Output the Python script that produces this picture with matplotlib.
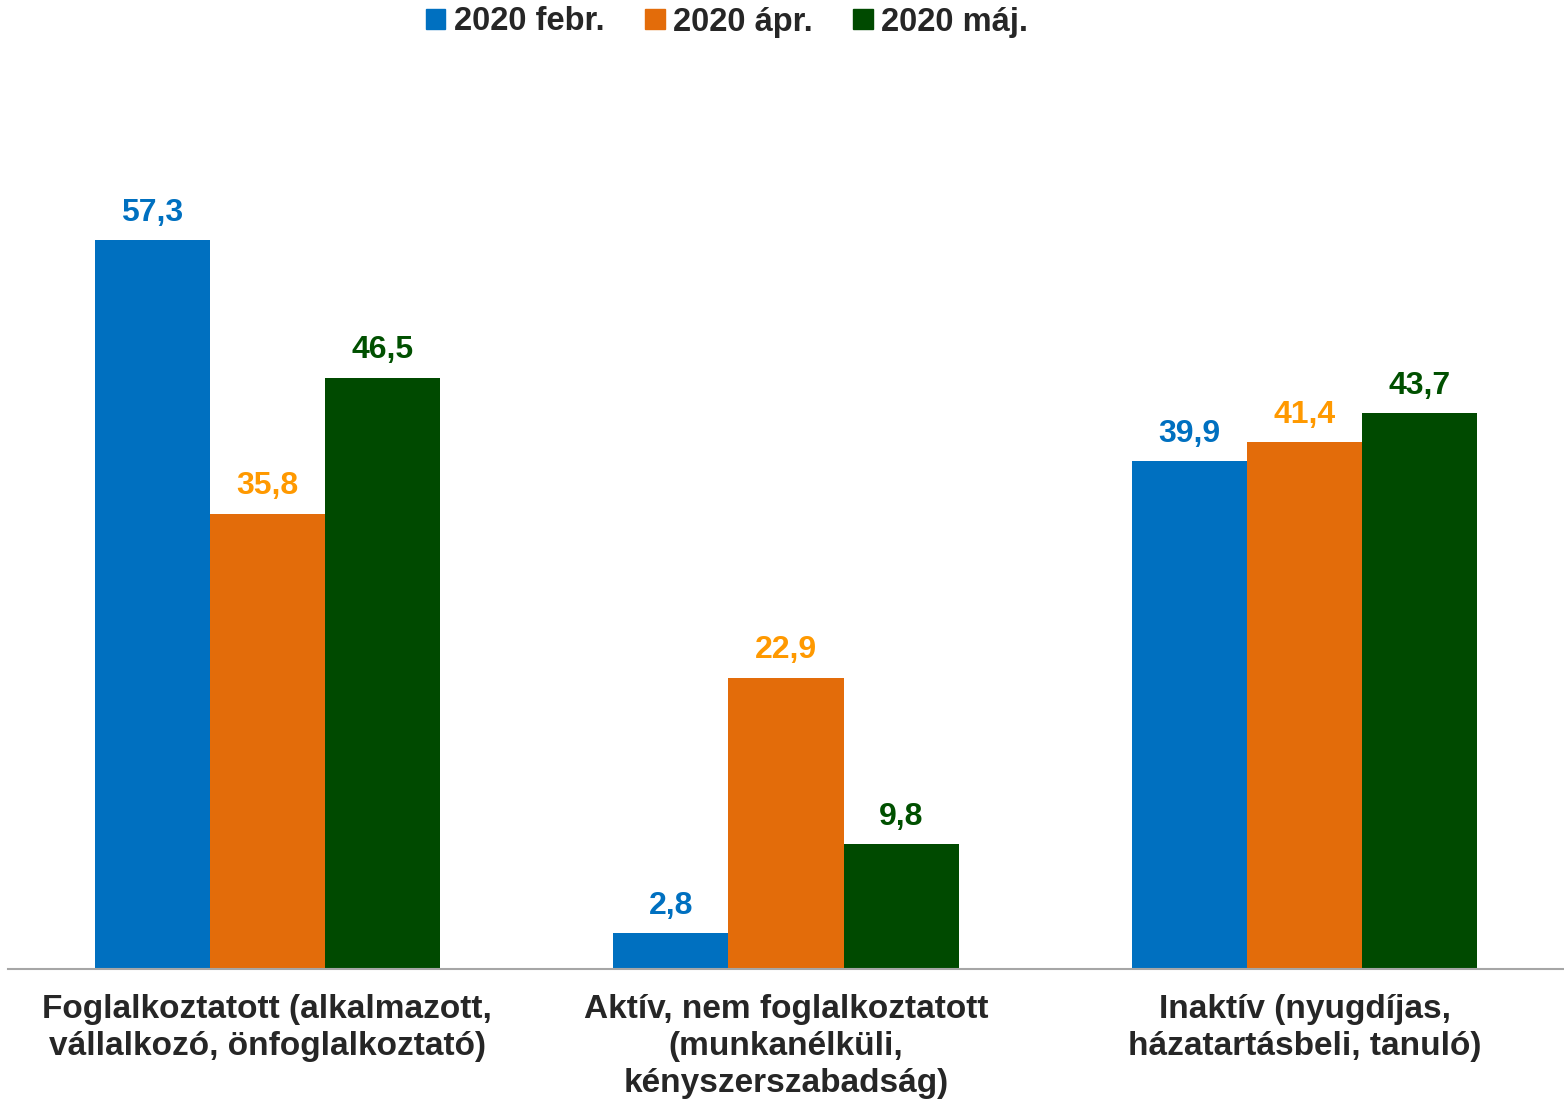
import numpy as np
import matplotlib
matplotlib.use('Agg')
import matplotlib.pyplot as plt
from matplotlib.patches import Patch

plt.rcParams['font.family'] = ['Liberation Sans', 'DejaVu Sans']
plt.rcParams['font.weight'] = 'bold'

categories = [
    'Foglalkoztatott (alkalmazott,\nvállalkozó, önfoglalkoztató)',
    'Aktív, nem foglalkoztatott\n(munkanélküli,\nkényszerszabadság)',
    'Inaktív (nyugdíjas,\nházatartásbeli, tanuló)',
]
series_names = ['2020 febr.', '2020 ápr.', '2020 máj.']
feb = [57.3, 2.8, 39.9]
apr = [35.8, 22.9, 41.4]
maj = [46.5, 9.8, 43.7]

bar_colors = ['#0070C0', '#E36C0A', '#004A00']
label_colors = ['#0070C0', '#FF9900', '#005000']
text_color = '#262626'

fig = plt.figure(figsize=(15.64, 11.01), dpi=100)
ax = fig.add_axes([8 / 1564, 132 / 1101, 1556 / 1564, 909 / 1101])

x = np.arange(len(categories))
width = 0.222
for i, (vals, name) in enumerate(zip([feb, apr, maj], series_names)):
    pos = x + (i - 1) * width
    ax.bar(pos, vals, width, color=bar_colors[i], label=name)
    for px, v in zip(pos, vals):
        ax.annotate(f'{v:.1f}'.replace('.', ','), (px, v), xytext=(0, 9),
                    textcoords='offset points', ha='center', va='bottom',
                    fontsize=23, fontweight='bold', color=label_colors[i])

ax.set_xlim(-0.5, 2.5)
ax.set_ylim(0, 71.46)
ax.set_yticks([])
ax.set_xticks(x)
ax.set_xticklabels(categories, fontsize=24, fontweight='bold', color=text_color,
                   linespacing=1.26)
ax.tick_params(axis='x', length=0, pad=18)
for s in ['top', 'right', 'left']:
    ax.spines[s].set_visible(False)
ax.spines['bottom'].set_color('#A6A6A6')
ax.spines['bottom'].set_linewidth(1.5)

handles = [Patch(color=c) for c in bar_colors]
leg = fig.legend(handles, series_names, loc='center', bbox_to_anchor=(727 / 1564, 1 - 22 / 1101),
                 ncol=3, frameon=False, fontsize=23.5, handlelength=0.6, handleheight=0.6,
                 handletextpad=0.25, columnspacing=1.25)
for t in leg.get_texts():
    t.set_color(text_color)
    t.set_fontweight('bold')

fig.savefig('out.png', dpi=100)
